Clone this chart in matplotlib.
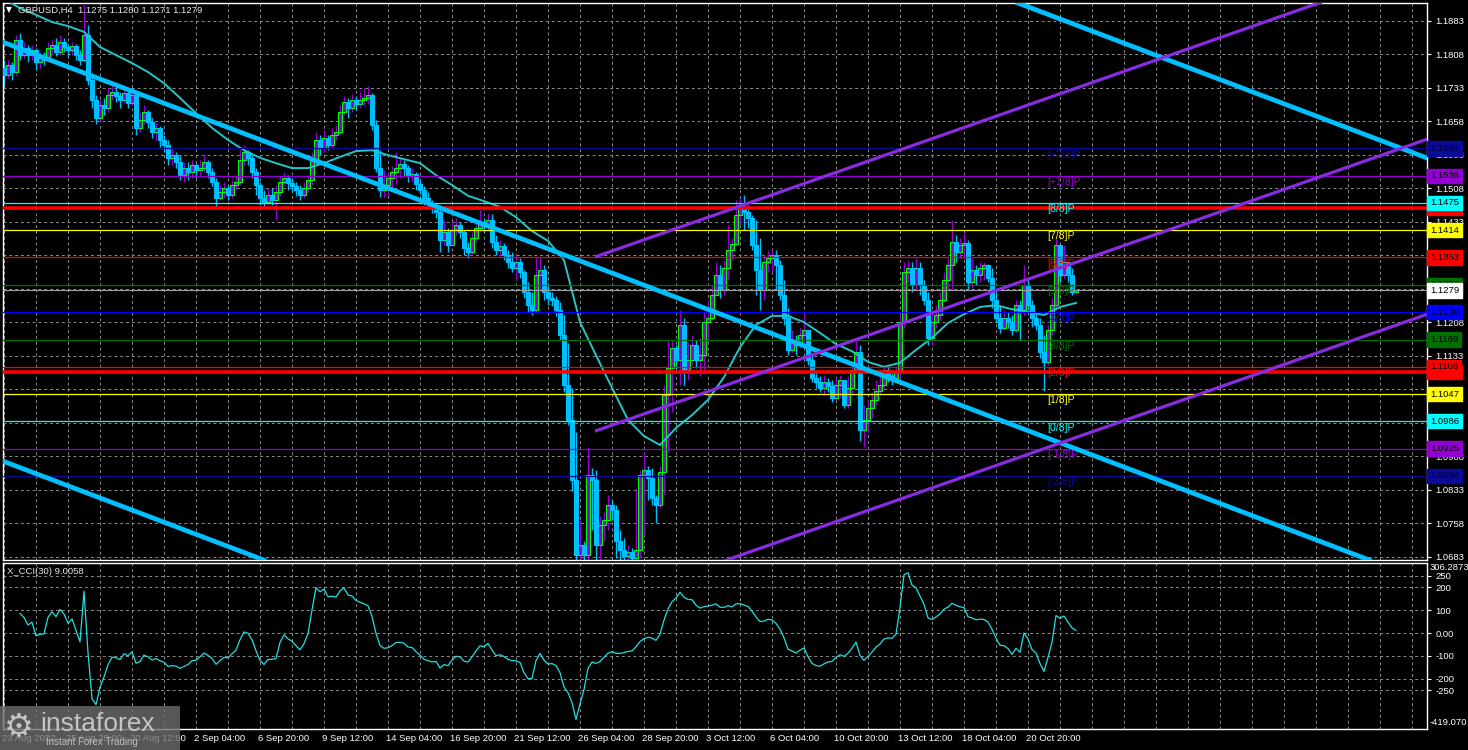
import numpy as np
import pandas as pd
import matplotlib
matplotlib.use("Agg")
import matplotlib.pyplot as plt
import matplotlib.transforms as mtransforms
from matplotlib.patches import Rectangle

plt.rcParams['font.family'] = ['Liberation Sans', 'DejaVu Sans']

# GBPUSD H4 candles (open = previous close)
first_open = 1.1776
closes = [
    1.1761, 1.1783, 1.1768, 1.1839, 1.1806, 1.1822, 1.1806, 1.1817, 1.1790, 1.1799,
    1.1795, 1.1822, 1.1828, 1.1813, 1.1835, 1.1824, 1.1817, 1.1826, 1.1806, 1.1795,
    1.1851, 1.1750, 1.1705, 1.1665, 1.1694, 1.1687, 1.1716, 1.1723, 1.1714, 1.1705,
    1.1721, 1.1698, 1.1716, 1.1642, 1.1660, 1.1678, 1.1656, 1.1633, 1.1642, 1.1615,
    1.1604, 1.1575, 1.1582, 1.1566, 1.1537, 1.1553, 1.1544, 1.1559, 1.1548, 1.1553,
    1.1566, 1.1544, 1.1521, 1.1486, 1.1499, 1.1508, 1.1492, 1.1515, 1.1521, 1.1571,
    1.1589, 1.1575, 1.1544, 1.1515, 1.1486, 1.1477, 1.1492, 1.1481, 1.1499, 1.1521,
    1.1530, 1.1519, 1.1512, 1.1503, 1.1492, 1.1508, 1.1526, 1.1571, 1.1615, 1.1598,
    1.1620, 1.1604, 1.1627, 1.1633, 1.1678, 1.1701, 1.1687, 1.1705, 1.1696, 1.1705,
    1.1710, 1.1716, 1.1649, 1.1553, 1.1503, 1.1515, 1.1530, 1.1544, 1.1553, 1.1562,
    1.1553, 1.1535, 1.1539, 1.1517, 1.1503, 1.1486, 1.1474, 1.1463, 1.1454, 1.1391,
    1.1409, 1.1380, 1.1414, 1.1425, 1.1409, 1.1373, 1.1364, 1.1396, 1.1418, 1.1432,
    1.1423, 1.1436, 1.1387, 1.1369, 1.1378, 1.1358, 1.1342, 1.1329, 1.1342, 1.1320,
    1.1275, 1.1246, 1.1235, 1.1313, 1.1324, 1.1275, 1.1262, 1.1257, 1.1235, 1.1179,
    1.1067, 1.0988, 1.0854, 1.0686, 1.0708, 1.0686, 1.0865, 1.0854, 1.0708, 1.0753,
    1.0764, 1.0798, 1.0787, 1.0719, 1.0697, 1.0684, 1.0693, 1.0679, 1.0697, 1.0865,
    1.0876, 1.0858, 1.0814, 1.0798, 1.0872, 1.1044, 1.1105, 1.1150, 1.1123, 1.1201,
    1.1100, 1.1123, 1.1156, 1.1123, 1.1134, 1.1208, 1.1217, 1.1268, 1.1313, 1.1279,
    1.1329, 1.1369, 1.1382, 1.1447, 1.1463, 1.1454, 1.1441, 1.1380, 1.1324, 1.1279,
    1.1342, 1.1351, 1.1358, 1.1335, 1.1268, 1.1217, 1.1145, 1.1167, 1.1156, 1.1179,
    1.1190, 1.1123, 1.1082, 1.1073, 1.1060, 1.1073, 1.1064, 1.1038, 1.1067, 1.1078,
    1.1022, 1.1060, 1.1100, 1.1141, 1.0966, 1.0988, 1.1015, 1.1033, 1.1055, 1.1067,
    1.1100, 1.1087, 1.1082, 1.1096, 1.1208, 1.1320, 1.1329, 1.1291, 1.1329, 1.1291,
    1.1257, 1.1172, 1.1208, 1.1223, 1.1257, 1.1302, 1.1335, 1.1387, 1.1364, 1.1380,
    1.1385, 1.1297, 1.1324, 1.1313, 1.1329, 1.1335, 1.1306, 1.1257, 1.1217, 1.1194,
    1.1217, 1.1208, 1.1190, 1.1246, 1.1235, 1.1291, 1.1246, 1.1217, 1.1201, 1.1141,
    1.1118, 1.1190, 1.1246, 1.1380, 1.1313, 1.1342, 1.1313, 1.1275, 1.1279,
]
highs = [
    1.1795, 1.1795, 1.1790, 1.1851, 1.1855, 1.1835, 1.1828, 1.1828, 1.1822, 1.1813,
    1.1813, 1.1835, 1.1839, 1.1844, 1.1851, 1.1844, 1.1830, 1.1835, 1.1830, 1.1817,
    1.1918, 1.1873, 1.1754, 1.1716, 1.1705, 1.1710, 1.1732, 1.1739, 1.1732, 1.1723,
    1.1732, 1.1727, 1.1727, 1.1714, 1.1678, 1.1694, 1.1683, 1.1665, 1.1656, 1.1647,
    1.1627, 1.1615, 1.1598, 1.1589, 1.1582, 1.1566, 1.1566, 1.1571, 1.1564, 1.1571,
    1.1582, 1.1571, 1.1553, 1.1530, 1.1515, 1.1521, 1.1515, 1.1526, 1.1537, 1.1593,
    1.1604, 1.1593, 1.1582, 1.1553, 1.1521, 1.1503, 1.1508, 1.1508, 1.1515, 1.1535,
    1.1544, 1.1537, 1.1530, 1.1521, 1.1515, 1.1521, 1.1537, 1.1589, 1.1633, 1.1627,
    1.1638, 1.1627, 1.1642, 1.1649, 1.1694, 1.1714, 1.1710, 1.1718, 1.1714, 1.1723,
    1.1732, 1.1736, 1.1721, 1.1660, 1.1593, 1.1548, 1.1544, 1.1557, 1.1589, 1.1575,
    1.1571, 1.1559, 1.1553, 1.1544, 1.1526, 1.1512, 1.1499, 1.1481, 1.1470, 1.1463,
    1.1436, 1.1418, 1.1432, 1.1441, 1.1432, 1.1414, 1.1387, 1.1409, 1.1432, 1.1459,
    1.1441, 1.1452, 1.1450, 1.1403, 1.1391, 1.1385, 1.1369, 1.1364, 1.1358, 1.1351,
    1.1324, 1.1297, 1.1275, 1.1351, 1.1351, 1.1335, 1.1291, 1.1275, 1.1266, 1.1253,
    1.1223, 1.1161, 1.1060, 1.0961, 1.0764, 1.0719, 1.0928, 1.0881, 1.0876, 1.0775,
    1.0782, 1.0820, 1.0809, 1.0798, 1.0742, 1.0724, 1.0708, 1.0702, 1.0836, 1.0876,
    1.0917, 1.0887, 1.0881, 1.0820, 1.0887, 1.1067, 1.1167, 1.1167, 1.1156, 1.1235,
    1.1217, 1.1163, 1.1179, 1.1167, 1.1172, 1.1230, 1.1257, 1.1291, 1.1342, 1.1335,
    1.1347, 1.1425, 1.1396, 1.1481, 1.1486, 1.1492, 1.1470, 1.1447, 1.1436, 1.1396,
    1.1358, 1.1369, 1.1369, 1.1369, 1.1347, 1.1302, 1.1239, 1.1190, 1.1179, 1.1194,
    1.1230, 1.1179, 1.1134, 1.1100, 1.1087, 1.1089, 1.1082, 1.1078, 1.1082, 1.1089,
    1.1067, 1.1087, 1.1118, 1.1167, 1.1156, 1.1022, 1.1033, 1.1051, 1.1078, 1.1087,
    1.1111, 1.1111, 1.1100, 1.1109, 1.1230, 1.1342, 1.1347, 1.1342, 1.1351, 1.1342,
    1.1302, 1.1275, 1.1230, 1.1246, 1.1275, 1.1320, 1.1351, 1.1436, 1.1403, 1.1396,
    1.1409, 1.1391, 1.1351, 1.1335, 1.1342, 1.1342, 1.1338, 1.1329, 1.1279, 1.1246,
    1.1235, 1.1230, 1.1223, 1.1257, 1.1257, 1.1335, 1.1302, 1.1257, 1.1230, 1.1217,
    1.1179, 1.1201, 1.1262, 1.1396, 1.1380, 1.1380, 1.1342, 1.1329, 1.1280,
]
lows = [
    1.1739, 1.1754, 1.1750, 1.1761, 1.1795, 1.1799, 1.1790, 1.1795, 1.1772, 1.1777,
    1.1783, 1.1790, 1.1806, 1.1804, 1.1806, 1.1813, 1.1804, 1.1806, 1.1795, 1.1783,
    1.1790, 1.1739, 1.1687, 1.1651, 1.1656, 1.1671, 1.1678, 1.1705, 1.1701, 1.1687,
    1.1698, 1.1687, 1.1692, 1.1627, 1.1633, 1.1651, 1.1642, 1.1620, 1.1615, 1.1600,
    1.1589, 1.1559, 1.1559, 1.1553, 1.1526, 1.1521, 1.1526, 1.1530, 1.1530, 1.1537,
    1.1544, 1.1530, 1.1512, 1.1463, 1.1481, 1.1486, 1.1481, 1.1486, 1.1503, 1.1515,
    1.1559, 1.1559, 1.1530, 1.1492, 1.1470, 1.1463, 1.1470, 1.1470, 1.1436, 1.1490,
    1.1512, 1.1503, 1.1499, 1.1490, 1.1481, 1.1486, 1.1499, 1.1515, 1.1559, 1.1582,
    1.1589, 1.1593, 1.1598, 1.1615, 1.1627, 1.1671, 1.1665, 1.1678, 1.1683, 1.1687,
    1.1692, 1.1696, 1.1638, 1.1544, 1.1488, 1.1488, 1.1492, 1.1503, 1.1517, 1.1530,
    1.1535, 1.1521, 1.1521, 1.1503, 1.1494, 1.1470, 1.1465, 1.1452, 1.1441, 1.1364,
    1.1380, 1.1364, 1.1378, 1.1403, 1.1396, 1.1358, 1.1351, 1.1358, 1.1387, 1.1409,
    1.1409, 1.1414, 1.1373, 1.1358, 1.1356, 1.1347, 1.1329, 1.1320, 1.1302, 1.1306,
    1.1262, 1.1230, 1.1223, 1.1230, 1.1275, 1.1257, 1.1246, 1.1244, 1.1221, 1.1167,
    1.1051, 1.0977, 1.0831, 1.0356, 1.0450, 1.0500, 1.0600, 1.0742, 1.0675, 1.0663,
    1.0719, 1.0742, 1.0764, 1.0679, 1.0670, 1.0663, 1.0663, 1.0652, 1.0663, 1.0679,
    1.0731, 1.0809, 1.0798, 1.0758, 1.0791, 1.0820, 1.0917, 1.1006, 1.1096, 1.1067,
    1.1067, 1.1078, 1.1111, 1.1105, 1.1087, 1.1091, 1.1167, 1.1212, 1.1275, 1.1262,
    1.1268, 1.1302, 1.1347, 1.1380, 1.1425, 1.1414, 1.1418, 1.1369, 1.1268, 1.1235,
    1.1257, 1.1320, 1.1320, 1.1279, 1.1257, 1.1201, 1.1134, 1.1141, 1.1134, 1.1150,
    1.1156, 1.1111, 1.1073, 1.1060, 1.1051, 1.1044, 1.1051, 1.1029, 1.1033, 1.1038,
    1.1015, 1.1015, 1.1044, 1.1096, 1.0943, 1.0928, 1.0959, 1.0993, 1.1022, 1.1044,
    1.1060, 1.1073, 1.1067, 1.1073, 1.1082, 1.1194, 1.1297, 1.1275, 1.1279, 1.1268,
    1.1246, 1.1156, 1.1156, 1.1194, 1.1212, 1.1253, 1.1279, 1.1279, 1.1342, 1.1351,
    1.1351, 1.1279, 1.1284, 1.1291, 1.1297, 1.1302, 1.1297, 1.1239, 1.1208, 1.1183,
    1.1190, 1.1194, 1.1179, 1.1185, 1.1167, 1.1223, 1.1235, 1.1197, 1.1190, 1.1127,
    1.1055, 1.1111, 1.1179, 1.1235, 1.1297, 1.1306, 1.1297, 1.1268, 1.1271,
]

# moving average as drawn on the chart, one value every 4 bars
ma_step = 4
ma_values = [
    1.1932, 1.1911, 1.1896, 1.1880, 1.1871, 1.1858, 1.1824, 1.1806, 1.1788, 1.1768,
    1.1743, 1.1710, 1.1676, 1.1643, 1.1616, 1.1593, 1.1576, 1.1564, 1.1553, 1.1553,
    1.1564, 1.1578, 1.1591, 1.1593, 1.1582, 1.1573, 1.1564, 1.1537, 1.1515, 1.1491,
    1.1479, 1.1466, 1.1443, 1.1412, 1.1390, 1.1347, 1.1208, 1.1134, 1.1061, 1.0989,
    1.0953, 1.0933, 1.0971, 1.1000, 1.1034, 1.1085, 1.1152, 1.1202, 1.1222, 1.1222,
    1.1208, 1.1184, 1.1159, 1.1143, 1.1119, 1.1108, 1.1117, 1.1146, 1.1173, 1.1206,
    1.1226, 1.1242, 1.1246, 1.1237, 1.1231, 1.1224, 1.1242, 1.1251,
]

# Murray math levels
murray_levels = [1.1597, 1.1536, 1.1475, 1.1414, 1.1353, 1.1292, 1.1230,
                 1.1169, 1.1108, 1.1047, 1.0986, 1.0925, 1.0864]
murray_names = ['[+2/8]P', '[+1/8]P', '[8/8]P', '[7/8]P', '[6/8]P', '[5/8]P', '[4/8]P',
                '[3/8]P', '[2/8]P', '[1/8]P', '[0/8]P', '[-1/8]P', '[-2/8]P']
murray_colors = ['#0a0a96', '#9400d3', '#00ffff', '#ffff00', '#ff0000', '#007000', '#0000ff',
                 '#007000', '#ff0000', '#ffff00', '#00ffff', '#9400d3', '#0a0a96']

red_levels = [1.1464, 1.1096]
last_price = 1.1279

# trend channels (bar index, price anchors)
blue_anchor = [(0, 1.1834), (269, 1.0921)]
blue_offsets = [0.0949, 0.0, -0.0938]
purple_anchor = [(147.75, 1.0964), (269, 1.1345)]
purple_offsets = [0.0390, 0.0, -0.0392]

price_ticks = [1.0683 + 0.0075 * k for k in range(17)]
hidden_price_labels = ['1.0983', '1.1058', '1.1283', '1.1358']   # covered by the level boxes
cci_ticks = [250, 200, 100, 0, -100, -200, -250]
cci_tick_labels = ['250', '200', '100', '0.00', '-100', '-200', '-250']
cci_max, cci_min = 306.2873, -419.070

# ---------------------------------------------------------------
n = len(closes)
idx = np.arange(n)
c = np.array(closes)
o = np.r_[first_open, c[:-1]]
h = np.maximum(np.array(highs), np.maximum(o, c))
l = np.minimum(np.array(lows), np.minimum(o, c))

dates = pd.date_range('2022-08-23 04:00', '2022-10-26', freq='4h')
dates = dates[dates.dayofweek < 5][:n]

# CCI(30)
tp = pd.Series((h + l + c) / 3)
sma = tp.rolling(30, min_periods=5).mean()
mad = tp.rolling(30, min_periods=5).apply(lambda x: np.mean(np.abs(x - x.mean())), raw=True)
cci = (tp - sma) / (0.015 * mad)

W, H = 1468, 750
fig = plt.figure(figsize=(W / 100, H / 100), dpi=100, facecolor='black')
ax = fig.add_axes([3 / W, 190 / H, 1424 / W, 557 / H])
ax2 = fig.add_axes([3 / W, 21 / H, 1424 / W, 166 / H], sharex=ax)

xmin, xmax = -0.25, 355.75
grid_kw = dict(color='#8c8c8c', lw=0.7, ls=(0, (3, 3)), zorder=0)
for a in (ax, ax2):
    a.set_facecolor('black')
    for s in a.spines.values():
        s.set_color('white')
        s.set_linewidth(1)
    for gx in range(0, 356, 8):
        a.axvline(gx, **grid_kw)
ax.set_xlim(xmin, xmax)
ax.set_ylim(1.06755, 1.19226)
for p in price_ticks:
    ax.axhline(p, **grid_kw)

# candles
bull = c >= o
body_lo = np.minimum(o, c)
body_h = np.maximum(np.abs(c - o), 0.00012)
ax.vlines(idx[bull], l[bull], h[bull], color='#9400d3', lw=1, zorder=2)
ax.vlines(idx[~bull], l[~bull], h[~bull], color='#00bfff', lw=1, zorder=2)
ax.bar(idx[bull], body_h[bull], bottom=body_lo[bull], width=0.8,
       color='#9400d3', edgecolor='#00ff00', linewidth=0.8, zorder=3)
ax.bar(idx[~bull], body_h[~bull], bottom=body_lo[~bull], width=0.8,
       color='#00bfff', edgecolor='#00bfff', linewidth=0.8, zorder=3)

# moving average
ax.plot(np.arange(0, n, ma_step), ma_values, color='#22c6c6', lw=1.4, zorder=4)

# horizontal levels
ax.axhline(last_price, color='#a0a0a0', lw=0.8, zorder=4)
for lev, col in zip(murray_levels, murray_colors):
    ax.axhline(lev, color=col, lw=0.9, zorder=5)
for lev in red_levels:
    ax.axhline(lev, color='#ff0000', lw=2.6, zorder=5)
for lev, name, col in zip(murray_levels, murray_names, murray_colors):
    ax.text(260.8, lev - 0.0003, name, color=col, fontsize=7.5, ha='left', va='top', zorder=6)

# trend channels
(bx0, by0), (bx1, by1) = blue_anchor
for off in blue_offsets:
    ax.axline((bx0, by0 + off), (bx1, by1 + off), color='#00bfff', lw=3.4, zorder=6)
(px0, py0), (px1, py1) = purple_anchor
slope = (py1 - py0) / (px1 - px0)
for off in purple_offsets:
    ax.plot([px0, xmax + 5], [py0 + off, py0 + off + slope * (xmax + 5 - px0)],
            color='#8a2be2', lw=2.3, zorder=6, solid_capstyle='butt')

# price axis
ax.yaxis.tick_right()
ax.set_yticks(price_ticks)
labels = ['%.4f' % p for p in price_ticks]
ax.set_yticklabels(['' if s in hidden_price_labels else s for s in labels])
ax.tick_params(axis='y', colors='white', labelsize=6.8, length=3, pad=3)
ax.tick_params(axis='x', bottom=False, labelbottom=False)

box_tr = mtransforms.blended_transform_factory(ax.transAxes, ax.transData)
def price_box(y, fc, tc='black'):
    ax.text(1.0 + 3 / 1424, y, '%.4f' % y, transform=box_tr, fontsize=6.8, color=tc,
            ha='left', va='center', clip_on=False, zorder=10,
            bbox=dict(boxstyle='square,pad=0.28', fc=fc, ec=fc))
for lev in red_levels:
    price_box(lev, '#ff0000')
for lev, col in zip(murray_levels, murray_colors):
    price_box(lev, col, '#000033' if col in ('#0a0a96', '#0000ff') else 'black')
price_box(last_price, 'white')

# CCI panel
ax2.plot(idx, cci, color='#1fe0e0', lw=0.9, zorder=3)
ax2.set_ylim(cci_min, cci_max)
for t in cci_ticks:
    ax2.axhline(t, **grid_kw)
ax2.yaxis.tick_right()
ax2.set_yticks(cci_ticks)
ax2.set_yticklabels(cci_tick_labels)
ax2.tick_params(axis='y', colors='white', labelsize=6.8, length=3, pad=3)
ax2.tick_params(axis='x', bottom=False, labelbottom=False)
ax2.text(1.0 + 3 / 1424, 1.0, '306.2873', transform=ax2.transAxes, fontsize=6.8,
         color='white', ha='left', va='top', clip_on=False)
ax2.text(1.0 + 3 / 1424, 0.01, '-419.070', transform=ax2.transAxes, fontsize=6.8,
         color='white', ha='left', va='bottom', clip_on=False)

# time labels
time_tr = mtransforms.blended_transform_factory(ax2.transData, ax2.transAxes)
for i in range(0, n, 16):
    d = dates[i]
    lab = f"{d.day} {d:%b %Y}" if i == 0 else f"{d.day} {d:%b %H:%M}"
    ax2.text(i - 0.5, -0.055, lab, transform=time_tr, fontsize=6.8, color='white',
             ha='left', va='center', clip_on=False)

# header texts
fig.text(6 / W, 1 - 10 / H, '\u25bc', fontsize=5.5, color='white', va='center',
         family=['DejaVu Sans'])
fig.text(18 / W, 1 - 10 / H, 'GBPUSD,H4  1.1275 1.1280 1.1271 1.1279', fontsize=6.8,
         color='#e8e8e8', va='center')
fig.text(7 / W, 1 - 571 / H, 'X_CCI(30) 9.0058', fontsize=6.8, color='#e8e8e8', va='center')

# watermark
fig.add_artist(Rectangle((0, 0), 180 / W, 44 / H, transform=fig.transFigure,
                         fc='#6e6e6e', ec='none', alpha=0.8, zorder=10))
fig.text(4 / W, 1 - 727 / H, '\u2699', fontsize=24, color='#c4c4c4', va='center',
         family=['DejaVu Sans'], zorder=11)
fig.text(40 / W, 1 - 724 / H, 'instaforex', fontsize=19, color='#c4c4c4', va='center',
         zorder=11)
fig.text(46 / W, 1 - 742 / H, 'Instant Forex Trading', fontsize=7, color='#bdbdbd',
         va='center', zorder=11)

fig.savefig('out.png', dpi=100, facecolor='black')
